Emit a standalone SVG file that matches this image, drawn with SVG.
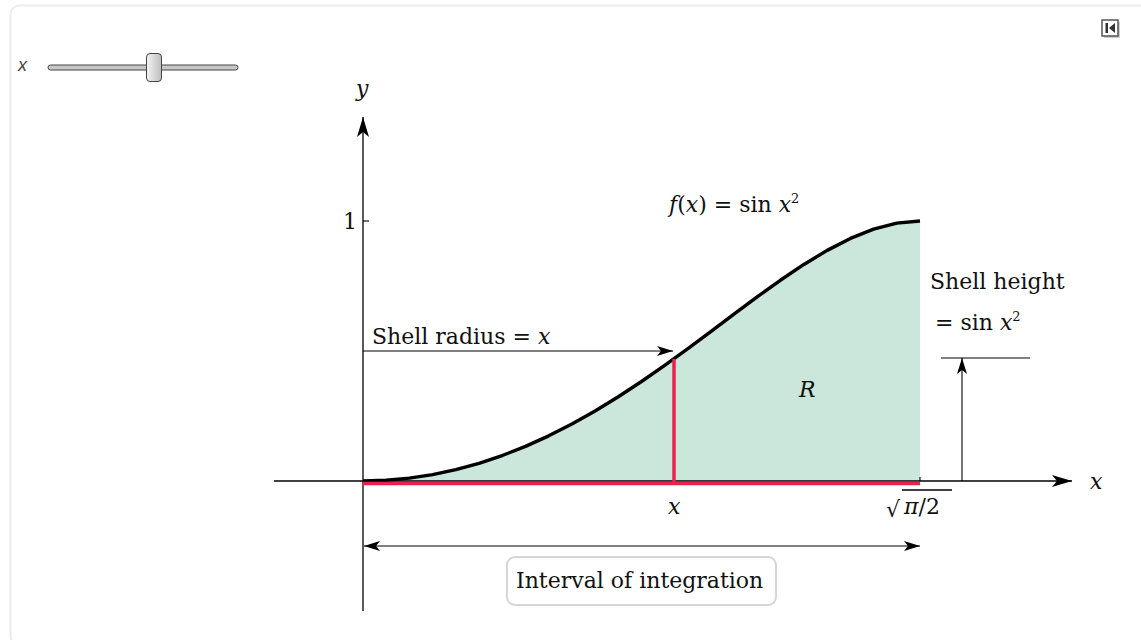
<svg xmlns="http://www.w3.org/2000/svg" width="1141" height="640" viewBox="0 0 1141 640">
<style>
.ax{stroke:#000;stroke-width:1.3;fill:none}
.thin{stroke:#000;stroke-width:1.1;fill:none}
.red{stroke:#e8234b;stroke-width:3.5;fill:none}
.lbl{font-family:"DejaVu Serif","Liberation Serif",serif;font-size:22px;fill:#111}
.it{font-style:italic}
</style>
<defs>
<marker id="ah" viewBox="0 0 20 12" refX="20" refY="6" markerWidth="20" markerHeight="12" markerUnits="userSpaceOnUse" orient="auto">
<path d="M0,0 L20,6 L0,12 L5,6 Z" fill="#000"/>
</marker>
<marker id="ahs" viewBox="0 0 16 10" refX="16" refY="5" markerWidth="16" markerHeight="10" markerUnits="userSpaceOnUse" orient="auto-start-reverse">
<path d="M0,0 L16,5 L0,10 L4,5 Z" fill="#000"/>
</marker>
<linearGradient id="thumb" x1="0" y1="0" x2="1" y2="0">
<stop offset="0" stop-color="#f4f4f4"/>
<stop offset="1" stop-color="#bdbdbd"/>
</linearGradient>
</defs>
<rect x="0" y="0" width="1141" height="640" fill="#fff"/>
<rect x="10.5" y="5.5" width="1140" height="640" rx="9" fill="none" stroke="#ececec" stroke-width="2"/>

<g id="slider">
<text x="18" y="71" font-family="Liberation Sans, Arial, sans-serif" font-size="18" font-style="italic" fill="#444">x</text>
<rect x="48" y="65" width="190" height="5" rx="2.5" fill="#c8c8c8" stroke="#444" stroke-width="1"/>
<rect x="146.5" y="53.5" width="15" height="28" rx="3.5" fill="url(#thumb)" stroke="#444" stroke-width="1"/>
</g>
<g id="reset-icon">
<rect x="1104" y="22" width="16" height="16" fill="#cfcfcf"/>
<rect x="1102" y="20" width="16" height="16" fill="#fff" stroke="#555" stroke-width="1.5"/>
<rect x="1105.5" y="23" width="2.5" height="10" fill="#333"/>
<path d="M1115,23 L1109,28 L1115,33 Z" fill="#333"/>
</g>

<g id="region">
<path d="M363,481 L386.2,480.29 L409.4,478.16 L432.6,474.62 L455.8,469.66 L479,463.29 L502.2,455.52 L525.5,446.36 L548.7,435.85 L571.9,424.03 L595.1,410.97 L618.3,396.75 L641.5,381.5 L664.7,365.36 L687.9,348.56 L711.1,331.29 L734.3,313.87 L757.5,296.65 L780.7,280.02 L803.9,264.42 L827.2,250.37 L850.4,238.42 L873.6,229.14 L896.8,223.13 L920,221 L920,481 Z" fill="#cbe6da"/>
</g>

<g id="axes">
<line class="ax" x1="274" y1="481" x2="1072" y2="481" marker-end="url(#ah)"/>
<line class="ax" x1="363" y1="611" x2="363" y2="117" marker-end="url(#ah)"/>
<line class="thin" x1="363" y1="221" x2="369" y2="221"/>
<line class="thin" x1="920" y1="481" x2="920" y2="477"/>
</g>

<g id="curve">
<path d="M363,481 L386.2,480.29 L409.4,478.16 L432.6,474.62 L455.8,469.66 L479,463.29 L502.2,455.52 L525.5,446.36 L548.7,435.85 L571.9,424.03 L595.1,410.97 L618.3,396.75 L641.5,381.5 L664.7,365.36 L687.9,348.56 L711.1,331.29 L734.3,313.87 L757.5,296.65 L780.7,280.02 L803.9,264.42 L827.2,250.37 L850.4,238.42 L873.6,229.14 L896.8,223.13 L920,221" fill="none" stroke="#000" stroke-width="3.4" stroke-linejoin="round"/>
</g>

<g id="shell">
<line class="red" x1="363" y1="483.5" x2="920" y2="483.5"/>
<line class="red" x1="674" y1="359" x2="674" y2="483"/>
</g>

<g id="connectors">
<line class="thin" x1="363" y1="351" x2="673" y2="351" marker-end="url(#ahs)"/>
<line class="thin" x1="941" y1="358" x2="1030" y2="358"/>
<line class="thin" x1="962" y1="481" x2="962" y2="358" marker-end="url(#ahs)"/>
<line class="thin" x1="364" y1="546" x2="920" y2="546" marker-start="url(#ahs)" marker-end="url(#ahs)"/>
</g>

<g id="labels">
<text class="lbl it" x="356" y="96">y</text>
<text class="lbl" x="343" y="229">1</text>
<text class="lbl it" x="1090" y="489">x</text>
<text class="lbl it" x="668" y="514">x</text>
<text class="lbl" x="886" y="517" font-size="26">√</text>
<line x1="902" y1="490" x2="952" y2="490" stroke="#000" stroke-width="1.3"/>
<text class="lbl" x="904" y="514"><tspan class="it">π</tspan>/2</text>
<text class="lbl" x="669" y="212"><tspan class="it">f</tspan>(<tspan class="it">x</tspan>) = sin <tspan class="it">x</tspan><tspan font-size="13" dy="-9">2</tspan></text>
<text class="lbl" x="372" y="344">Shell radius = <tspan class="it">x</tspan></text>
<text class="lbl" x="930" y="289">Shell height</text>
<text class="lbl" x="935" y="330">= sin <tspan class="it">x</tspan><tspan font-size="13" dy="-9">2</tspan></text>
<text class="lbl it" x="799" y="397">R</text>
</g>

<g id="interval-box">
<rect x="507" y="557" width="269" height="48" rx="8" fill="#fff" stroke="#d6d6d6" stroke-width="2"/>
<text class="lbl" x="516" y="588">Interval of integration</text>
</g>
</svg>
